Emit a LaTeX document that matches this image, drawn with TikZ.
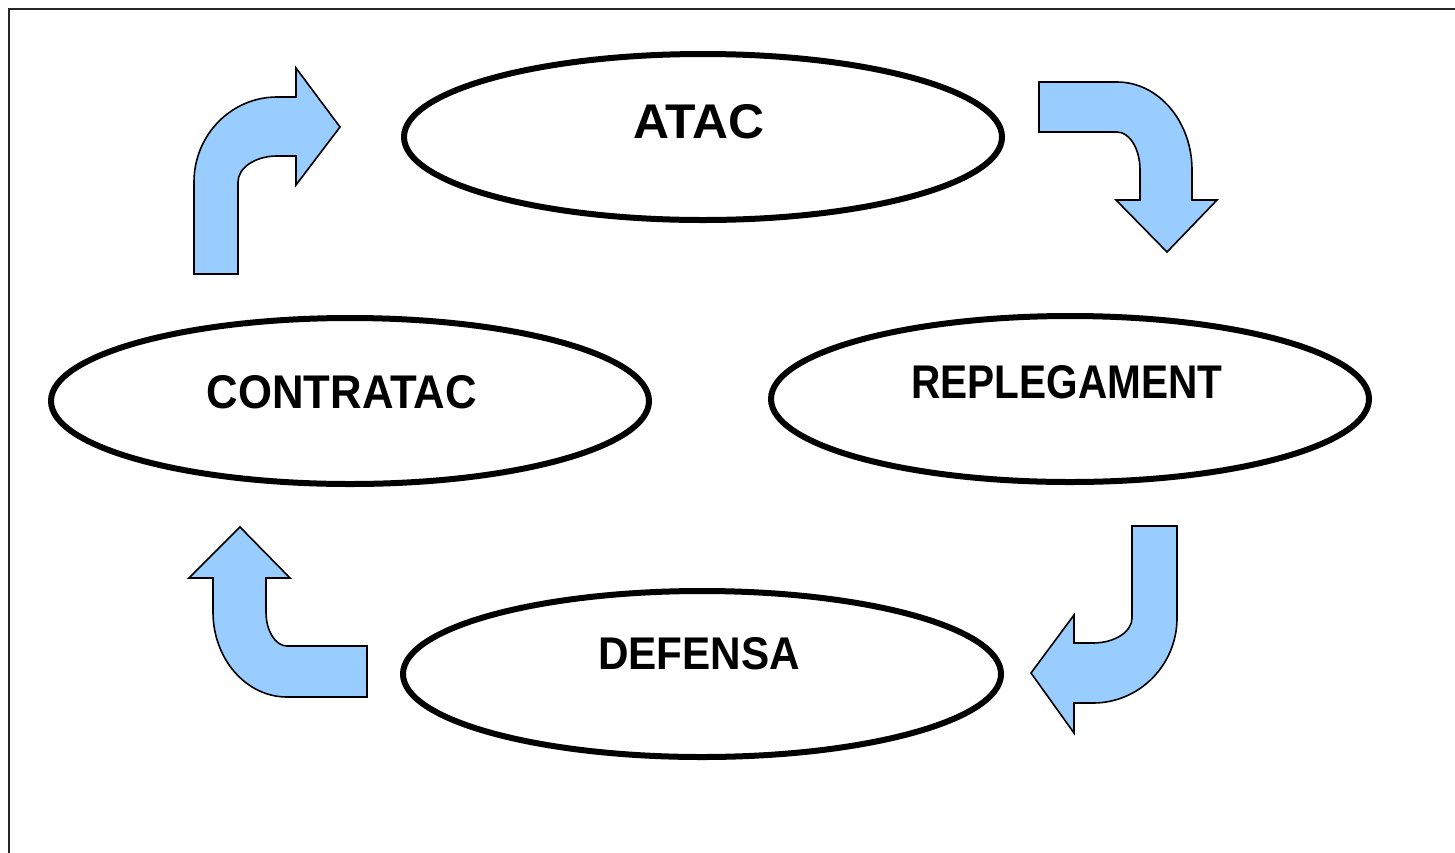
\documentclass[tikz,border=0pt]{standalone}
\usepackage{fontspec}
\setmainfont{Liberation Sans}
\usetikzlibrary{shapes.geometric}
\definecolor{arrowblue}{HTML}{99CCFF}
\tikzset{
  oval/.style={ellipse, draw=black, line width=6pt, minimum width=598pt, minimum height=166pt, inner sep=0pt, fill=white},
  lbl/.style={inner sep=0pt, anchor=center},
  bentarrow/.style={fill=arrowblue, draw=black, line width=1.6pt, line join=miter},
}
\newcommand{\lab}[3]{\resizebox{#1pt}{#2pt}{\bfseries #3}}
\begin{document}
\begin{tikzpicture}[x=1pt,y=-1pt]
\useasboundingbox (0,0) rectangle (1455,852);
\clip (0,0) rectangle (1455,852);
\fill[white] (0,0) rectangle (1455,852);
\draw[line width=2.2pt, draw=black!85] (9.3,9.3) rectangle (1470,870);

% ellipses
\node[oval] (atac) at (703,137) {};
\node[oval] (contratac) at (350,401) {};
\node[oval] (replegament) at (1070,399) {};
\node[oval] (defensa) at (702,674) {};

% labels
\node[lbl] (atacT) at (699,122) {\lab{131}{34}{ATAC}};
\node[lbl] (contratacT) at (342,392) {\lab{270}{33}{CONTRATAC}};
\node[lbl] (replegamentT) at (1067,382) {\lab{311}{33}{REPLEGAMENT}};
\node[lbl] (defensaT) at (699,654) {\lab{202}{32}{DEFENSA}};

% arrow: contratac -> atac (top left)
\draw[bentarrow] (194,274) -- (194,182)
  arc[start angle=180, end angle=270, x radius=83, y radius=85]
  -- (296,97) -- (296,68) -- (340,127) -- (296,185) -- (296,156) -- (277,156)
  arc[start angle=270, end angle=180, x radius=39, y radius=26]
  -- (238,274) -- cycle;

% arrow: atac -> replegament (top right)
\draw[bentarrow] (1039,82) -- (1117,82)
  arc[start angle=270, end angle=360, x radius=75, y radius=88]
  -- (1192,200) -- (1217,200) -- (1167,252) -- (1116,200) -- (1140,200) -- (1140,170)
  arc[start angle=0, end angle=-90, x radius=23, y radius=38]
  -- (1039,132) -- cycle;

% arrow: replegament -> defensa (bottom right)
\draw[bentarrow] (1132,526) -- (1132,618)
  arc[start angle=0, end angle=90, x radius=39, y radius=25]
  -- (1074,643) -- (1074,615) -- (1031,673) -- (1074,733) -- (1074,703) -- (1093,703)
  arc[start angle=90, end angle=0, x radius=84, y radius=85]
  -- (1177,526) -- cycle;

% arrow: defensa -> contratac (bottom left)
\draw[bentarrow] (367,646) -- (287,646)
  arc[start angle=90, end angle=180, x radius=21, y radius=34]
  -- (266,578) -- (290,578) -- (240,527) -- (189,578) -- (213,578) -- (213,612)
  arc[start angle=180, end angle=90, x radius=74, y radius=85]
  -- (367,697) -- cycle;
\end{tikzpicture}
\end{document}
